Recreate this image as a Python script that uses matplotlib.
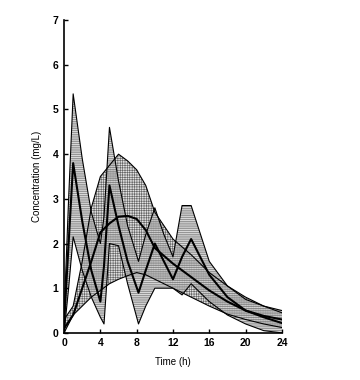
import matplotlib
matplotlib.use("Agg")
import matplotlib.pyplot as plt

plt.rcParams['font.family'] = ['Liberation Sans', 'DejaVu Sans']
plt.rcParams['hatch.linewidth'] = 0.45

# Immediate release band (sharp peaks)
t_a = [0, 0.5, 1, 2, 3, 4, 4.4, 5, 6, 7, 8.2, 9, 10, 11, 12, 13, 14, 16, 18, 20, 22, 24]
upper_a = [0.4, 3.0, 5.35, 3.9, 2.7, 2.0, 2.6, 4.6, 3.4, 2.4, 1.6, 2.2, 2.8, 2.2, 1.7, 2.85, 2.85, 1.6, 1.05, 0.75, 0.6, 0.5]
median_a = [0.2, 2.0, 3.8, 2.5, 1.4, 0.7, 1.5, 3.3, 2.4, 1.6, 0.9, 1.4, 2.0, 1.6, 1.2, 1.7, 2.1, 1.3, 0.8, 0.5, 0.35, 0.22]
lower_a = [0.0, 1.0, 2.15, 1.4, 0.8, 0.35, 0.2, 2.0, 1.95, 1.1, 0.2, 0.6, 1.0, 1.0, 1.0, 0.85, 1.1, 0.7, 0.4, 0.2, 0.05, 0.0]

# Sustained release band (smooth)
t_b = [0, 1, 2, 3, 4, 5, 6, 7, 8, 9, 10, 12, 14, 16, 18, 20, 22, 24]
upper_b = [0.3, 0.6, 1.6, 2.8, 3.5, 3.75, 4.0, 3.85, 3.65, 3.3, 2.7, 2.1, 1.75, 1.35, 1.05, 0.8, 0.6, 0.45]
median_b = [0.1, 0.4, 1.0, 1.6, 2.25, 2.45, 2.6, 2.62, 2.55, 2.3, 1.9, 1.55, 1.25, 0.95, 0.7, 0.5, 0.38, 0.3]
lower_b = [0.0, 0.4, 0.6, 0.8, 0.95, 1.1, 1.2, 1.28, 1.35, 1.3, 1.2, 1.0, 0.8, 0.6, 0.42, 0.3, 0.2, 0.12]

x_ticks = [0, 4, 8, 12, 16, 20, 24]
y_ticks = [0, 1, 2, 3, 4, 5, 6, 7]

fig = plt.figure(figsize=(3.6, 3.8), dpi=100)
ax = fig.add_axes([0.178, 0.124, 0.605, 0.823])

ax.fill_between(t_b, lower_b, upper_b, facecolor='#e2e2e2', edgecolor='#666666',
                hatch='+++++++', linewidth=0)
ax.fill_between(t_a, lower_a, upper_a, facecolor='#cfcfcf', edgecolor='#555555',
                hatch='---------', linewidth=0, alpha=0.8)

for t, lo, md, up in [(t_a, lower_a, median_a, upper_a), (t_b, lower_b, median_b, upper_b)]:
    ax.plot(t, up, color='black', lw=0.8)
    ax.plot(t, lo, color='black', lw=0.8)
    ax.plot(t, md, color='black', lw=1.5)

ax.set_xlim(0, 24)
ax.set_ylim(0, 7)
ax.set_xticks(x_ticks)
ax.set_yticks(y_ticks)
ax.spines['top'].set_visible(False)
ax.spines['right'].set_visible(False)
ax.spines['left'].set_linewidth(1.2)
ax.spines['bottom'].set_linewidth(1.2)
ax.tick_params(direction='in', length=3, width=1, labelsize=7.5, pad=4)
for lab in ax.get_xticklabels() + ax.get_yticklabels():
    lab.set_fontweight('bold')

ax.set_xlabel("Time (h)", fontsize=7, labelpad=6)
ax.set_ylabel("Concentration (mg/L)", fontsize=7, labelpad=8)

fig.savefig("out.png", dpi=100)
